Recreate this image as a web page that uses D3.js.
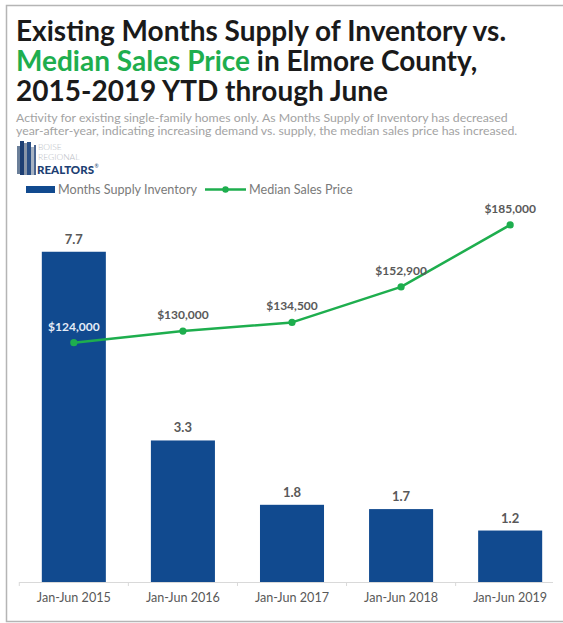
<!DOCTYPE html>
<html>
<head>
<meta charset="utf-8">
<script src="https://cdn.jsdelivr.net/npm/d3@7"></script>
<style>
  html, body { margin: 0; padding: 0; background: #fff; }
  svg { display: block; font-family: Lato, "Open Sans", sans-serif; }
</style>
</head>
<body>
<svg id="chart" width="563" height="623"></svg>
<script>
// Elmore County, Jan–Jun of each year
const periods = ["Jan-Jun 2015", "Jan-Jun 2016", "Jan-Jun 2017", "Jan-Jun 2018", "Jan-Jun 2019"];
const monthsSupply = [7.7, 3.3, 1.8, 1.7, 1.2];
const medianPrice = [124000, 130000, 134500, 152900, 185000];
const seriesNames = ["Months Supply Inventory", "Median Sales Price"];

const BLUE = "#114a8f";
const GREEN = "#1eae4e";
const GREY_TEXT = "#595959";

const svg = d3.select("#chart");

// outer frame (left, top, bottom)
svg.append("path")
  .attr("d", "M563,5.5 H6.5 V621.5 H563")
  .attr("fill", "none").attr("stroke", "#b5b5b5").attr("stroke-width", 1.5);

// title
const title = svg.append("text").attr("font-size", 28).attr("font-weight", 700).attr("fill", "#1a1a1a");
title.append("tspan").attr("x", 16).attr("y", 41).text("Existing Months Supply of Inventory vs.");
const t2 = title.append("tspan").attr("x", 16).attr("y", 71);
t2.append("tspan").attr("fill", GREEN).text("Median Sales Price");
t2.append("tspan").text(" in Elmore County,");
title.append("tspan").attr("x", 16).attr("y", 101).text("2015-2019 YTD through June");

// subtitle
const sub = svg.append("text").attr("font-size", 12.3).attr("fill", "#a3a3a3");
sub.append("tspan").attr("x", 16).attr("y", 121.5)
  .text("Activity for existing single-family homes only. As Months Supply of Inventory has decreased");
sub.append("tspan").attr("x", 16).attr("y", 135)
  .text("year-after-year, indicating increasing demand vs. supply, the median sales price has increased.");

// logo
const logo = svg.append("g");
[[17, 146, 3, 28, "#6b7f99"], [20, 141, 4, 34, "#1d3f73"], [24, 143, 3, 32, "#8895a8"],
 [27, 142, 4, 33, "#2a4f85"], [31, 147, 3, 28, "#a8b3c2"], [34, 145, 2, 30, "#4a6590"]]
  .forEach(([x, y, w, h, c]) => logo.append("rect").attr("x", x).attr("y", y).attr("width", w).attr("height", h).attr("fill", c));
logo.append("text").attr("x", 38).attr("y", 149.5).attr("font-size", 8.5).attr("font-weight", 300).attr("fill", "#b8bcc4").text("BOISE");
logo.append("text").attr("x", 38).attr("y", 160).attr("font-size", 8.5).attr("font-weight", 300).attr("fill", "#b8bcc4").text("REGIONAL");
const realtors = logo.append("text").attr("x", 37).attr("y", 174).attr("font-size", 11.5).attr("font-weight", 900)
  .attr("fill", "#1d3f73").text("REALTORS");
const rw = realtors.node().getComputedTextLength();
logo.append("text").attr("x", 37 + rw + 0.5).attr("y", 168).attr("font-size", 5).attr("fill", "#1d3f73").text("®");

// legend
const legend = svg.append("g").attr("font-size", 12.6).attr("fill", "#7a7a7a");
legend.append("rect").attr("x", 26).attr("y", 186).attr("width", 29).attr("height", 7).attr("fill", BLUE);
legend.append("text").attr("x", 58).attr("y", 194).text(seriesNames[0]);
legend.append("line").attr("x1", 205).attr("x2", 246).attr("y1", 189.5).attr("y2", 189.5).attr("stroke", GREEN).attr("stroke-width", 2.5);
legend.append("circle").attr("cx", 225.5).attr("cy", 189.5).attr("r", 3.2).attr("fill", GREEN);
legend.append("text").attr("x", 249).attr("y", 194).text(seriesNames[1]);

// scales
const x = d3.scaleBand().domain(periods).range([20, 564]).paddingInner(0.413).paddingOuter(0.2);
const ySupply = d3.scaleLinear().domain([0, 9]).range([582, 196]);
const yPrice = d3.scaleLinear().domain([0, 200000]).range([582, 196]);

// bars
svg.append("g").selectAll("rect").data(monthsSupply).join("rect")
  .attr("x", (d, i) => x(periods[i]))
  .attr("y", d => ySupply(d))
  .attr("width", x.bandwidth())
  .attr("height", d => ySupply(0) - ySupply(d))
  .attr("fill", BLUE);

svg.append("g").attr("font-size", 13).attr("font-weight", 700).attr("fill", GREY_TEXT).attr("text-anchor", "middle")
  .selectAll("text").data(monthsSupply).join("text")
  .attr("x", (d, i) => x(periods[i]) + x.bandwidth() / 2)
  .attr("y", d => ySupply(d) - 8)
  .text(d => d.toFixed(1));

// x axis
const xAxis = d3.axisBottom(x).tickSize(0).tickPadding(11);
const gx = svg.append("g").attr("transform", "translate(0,582)").call(xAxis);
gx.selectAll("text").attr("font-family", "Lato, sans-serif").attr("font-size", 12.6).attr("fill", GREY_TEXT);
const step = x.step();
const edge0 = x(periods[0]) - step * x.paddingInner() / 2;
gx.select(".domain").attr("stroke", "#d9d9d9").attr("d", `M${edge0},0.5H553`);
gx.selectAll(".sep").data(d3.range(periods.length)).join("line").attr("class", "sep")
  .attr("x1", i => edge0 + i * step).attr("x2", i => edge0 + i * step)
  .attr("y1", 0).attr("y2", 4).attr("stroke", "#d9d9d9");

// price line
const cx = (d, i) => x(periods[i]) + x.bandwidth() / 2;
const line = d3.line().x(cx).y(d => yPrice(d));
svg.append("path").datum(medianPrice).attr("d", line)
  .attr("fill", "none").attr("stroke", GREEN).attr("stroke-width", 2.5).attr("stroke-linejoin", "round");
svg.append("g").selectAll("circle").data(medianPrice).join("circle")
  .attr("cx", cx).attr("cy", d => yPrice(d)).attr("r", 3.6).attr("fill", GREEN);

const fmt = d3.format("$,");
svg.append("g").attr("font-size", 12).attr("font-weight", 700).attr("text-anchor", "middle")
  .selectAll("text").data(medianPrice).join("text")
  .attr("x", cx)
  .attr("y", d => yPrice(d) - 12)
  .attr("fill", (d, i) => i === 0 ? "#e4ecf7" : GREY_TEXT)
  .text(d => fmt(d));
</script>
</body>
</html>
